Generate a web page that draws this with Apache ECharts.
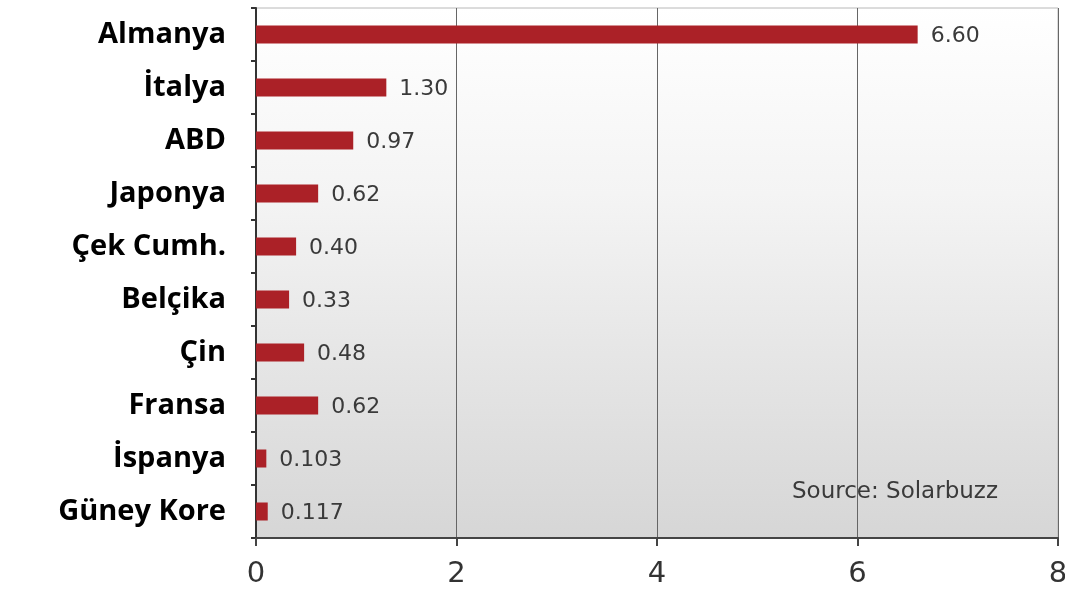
<!DOCTYPE html>
<html>
<head>
<meta charset="utf-8">
<script src="https://cdn.jsdelivr.net/npm/echarts@6/dist/echarts.min.js"></script>
<style>
  html, body { margin: 0; padding: 0; background: #fff; }
  #chart { width: 1065px; height: 594px; }
</style>
</head>
<body>
<div id="chart"></div>
<script>
// Installed PV capacity by country (GW)
const countries = ['Almanya', 'İtalya', 'ABD', 'Japonya', 'Çek Cumh.', 'Belçika', 'Çin', 'Fransa', 'İspanya', 'Güney Kore'];
const capacity = [6.60, 1.30, 0.97, 0.62, 0.40, 0.33, 0.48, 0.62, 0.103, 0.117];
const axisTicks = [0, 2, 4, 6, 8];
const sourceNote = 'Source: Solarbuzz';

const chart = echarts.init(document.getElementById('chart'));

chart.setOption({
  animation: false,
  grid: {
    left: 256, right: 7, top: 8, bottom: 56,
    outerBoundsMode: 'none',
    containLabel: false,
    show: true,
    borderColor: '#b8b8b8',
    borderWidth: 1,
    backgroundColor: {
      type: 'linear', x: 0, y: 0, x2: 0, y2: 1,
      colorStops: [
        { offset: 0, color: '#ffffff' },
        { offset: 0.35, color: '#f4f4f4' },
        { offset: 1, color: '#d6d6d6' }
      ]
    }
  },
  xAxis: {
    type: 'value',
    min: axisTicks[0],
    max: axisTicks[axisTicks.length - 1],
    interval: axisTicks[1] - axisTicks[0],
    axisLine: { show: true, lineStyle: { color: '#444', width: 2 } },
    axisTick: { show: true, length: 8, lineStyle: { color: '#444', width: 2 } },
    splitLine: { show: true, lineStyle: { color: '#666', width: 1 } },
    axisLabel: {
      color: '#333',
      fontFamily: 'DejaVu Sans',
      fontSize: 29,
      margin: 22
    }
  },
  yAxis: {
    type: 'category',
    data: countries,
    inverse: true,
    axisLine: { show: true, lineStyle: { color: '#333', width: 2 } },
    axisTick: { show: true, length: 5, lineStyle: { color: '#333', width: 2 } },
    axisLabel: {
      color: '#000',
      fontFamily: 'Open Sans',
      fontWeight: 'bold',
      fontSize: 29,
      margin: 30
    }
  },
  series: [{
    type: 'bar',
    data: capacity,
    barWidth: 18,
    itemStyle: { color: '#ab2127' },
    label: {
      show: true,
      position: 'right',
      distance: 13,
      offset: [0, 2],
      color: '#3a3a3a',
      fontFamily: 'DejaVu Sans',
      fontSize: 22,
      formatter: p => p.value.toFixed(p.value < 0.2 ? 3 : 2)
    }
  }],
  graphic: [{
    type: 'text',
    left: 792,
    top: 481,
    style: {
      text: sourceNote,
      fill: '#3a3a3a',
      font: '23px "DejaVu Sans"'
    }
  }]
});
</script>
</body>
</html>
